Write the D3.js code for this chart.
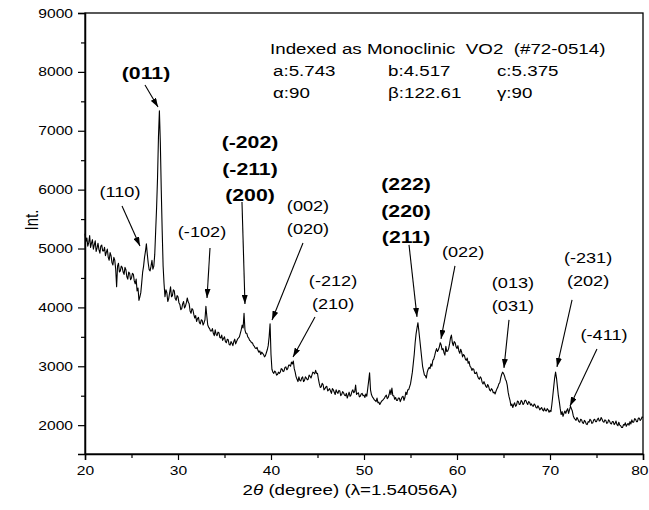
<!DOCTYPE html>
<html><head><meta charset="utf-8">
<script src="https://cdn.jsdelivr.net/npm/d3@7"></script>
<style>
html,body{margin:0;padding:0;background:#fff;}
svg{display:block;font-family:"Liberation Sans",Arial,Helvetica,sans-serif;}
</style>
</head><body>
<svg id="chart" width="649" height="510"></svg>
<script>
// ---------------- DATA ----------------
const thetaStart = 20, thetaStep = 0.1;   // 2θ sampling of the trace (degrees)
const intensity = [
 5250,5120,5180,5040,5100,5220,5020,5090,5150,4990, // 20
 5060,5130,4950,5010,5090,4980,4920,5040,5060,4960, // 21
 4960,5020,4880,4940,4990,4850,4800,4930,4880,4760, // 22
 4720,4850,4800,4650,4350,4700,4750,4600,4620,4700, // 23
 4680,4600,4560,4680,4640,4520,4480,4600,4580,4470, // 24
 4500,4580,4560,4450,4400,4480,4280,4330,4120,4180, // 25
 4250,4420,4600,4700,4850,4950,5080,4900,4750,4640, // 26
 4620,4700,4800,4650,4700,4900,5300,5700,6200,6900, // 27
 7340,6800,6000,5300,4700,4400,4180,4300,4250,4100, // 28
 4150,4250,4350,4180,4200,4300,4280,4150,4120,4200, // 29
 4180,4080,4050,3960,3980,4060,4100,3990,4020,4080, // 30
 4160,4090,4060,3940,3900,3980,3960,3880,3820,3860, // 31
 3760,3810,3830,3740,3720,3790,3780,3700,3740,3790, // 32
 4020,3850,3700,3660,3640,3600,3600,3640,3560,3520, // 33
 3620,3540,3520,3580,3570,3490,3480,3530,3440,3470, // 34
 3500,3420,3400,3460,3450,3370,3360,3420,3390,3350, // 35
 3420,3460,3380,3420,3460,3480,3500,3560,3620,3700, // 36
 3650,3900,3620,3560,3560,3500,3480,3440,3430,3400, // 37
 3400,3360,3340,3310,3300,3320,3270,3240,3260,3200, // 38
 3240,3220,3200,3160,3180,3230,3280,3350,3500,3720, // 39
 3200,2950,2900,2880,2920,2900,2850,2860,2900,2880, // 40
 2900,2960,2950,2910,2920,2980,2990,2940,2960,3020, // 41
 3020,3000,3070,3040,3090,2960,2900,2820,2780,2740, // 42
 2820,2760,2750,2800,2820,2740,2760,2820,2800,2770, // 43
 2780,2850,2830,2800,2850,2900,2890,2870,2930,2880, // 44
 2880,2780,2700,2640,2650,2710,2690,2600,2620,2650, // 45
 2660,2580,2600,2620,2580,2540,2620,2600,2560,2520, // 46
 2600,2560,2540,2590,2580,2500,2520,2570,2550,2510, // 47
 2500,2540,2460,2510,2560,2490,2510,2570,2600,2550, // 48
 2570,2680,2520,2540,2550,2480,2490,2530,2540,2500, // 49
 2510,2470,2530,2490,2620,2750,2890,2600,2520,2480, // 50
 2460,2430,2420,2400,2460,2380,2390,2350,2380,2410, // 51
 2420,2440,2460,2490,2510,2450,2470,2520,2600,2520, // 52
 2630,2500,2500,2440,2470,2420,2420,2460,2460,2400, // 53
 2440,2480,2490,2420,2470,2560,2520,2600,2600,2650, // 54
 2700,2800,2900,3050,3200,3400,3550,3650,3740,3600, // 55
 3450,3300,3150,3000,2920,2850,2840,2800,2900,2950, // 56
 2980,2960,3040,3000,3100,3120,3180,3250,3300,3250, // 57
 3280,3330,3400,3360,3280,3300,3230,3190,3340,3250, // 58
 3260,3300,3380,3480,3530,3400,3350,3420,3400,3330, // 59
 3300,3350,3260,3220,3290,3240,3160,3200,3180,3120, // 60
 3100,3140,3050,3080,3000,2980,2930,2960,2950,2880, // 61
 2880,2900,2840,2800,2780,2820,2800,2730,2700,2740, // 62
 2700,2660,2640,2690,2660,2600,2580,2620,2600,2550, // 63
 2560,2530,2580,2620,2650,2700,2720,2800,2860,2900, // 64
 2880,2840,2780,2750,2680,2560,2480,2420,2330,2360, // 65
 2300,2350,2380,2320,2340,2410,2400,2350,2360,2420, // 66
 2400,2350,2370,2420,2420,2380,2350,2400,2390,2340, // 67
 2360,2330,2320,2360,2340,2300,2290,2330,2300,2260, // 68
 2280,2300,2260,2240,2290,2250,2240,2280,2260,2220, // 69
 2250,2230,2350,2500,2650,2800,2900,2800,2650,2500, // 70
 2400,2280,2180,2230,2150,2200,2240,2200,2250,2280, // 71
 2200,2260,2320,2280,2240,2160,2120,2100,2080,2130, // 72
 2100,2060,2050,2100,2090,2040,2030,2080,2060,2020, // 73
 2010,2060,2050,2100,2080,2030,2040,2090,2100,2060, // 74
 2060,2100,2120,2070,2080,2130,2100,2060,2050,2090, // 75
 2080,2030,2040,2090,2070,2030,2020,2060,2060,2010, // 76
 2030,2070,2010,1990,2050,2000,1990,1960,1960,2010, // 77
 2000,2040,1980,2010,2030,2000,2060,2020,2090,2050, // 78
 2050,2110,2100,2060,2060,2120,2120,2080,2100,2140, // 79
 2130                                                // 80
];
const xTickValues = [20,25,30,35,40,45,50,55,60,65,70,75,80];
const xTickLabels = [20,30,40,50,60,70,80];
const yTickValues = [2000,2500,3000,3500,4000,4500,5000,5500,6000,6500,7000,7500,8000,8500,9000];
const yTickLabels = [2000,3000,4000,5000,6000,7000,8000,9000];

// peak annotations: label lines, bold?, label anchor [2θ, Int], arrow from/to [2θ, Int]
const peakText   = [["(011)"],["(110)"],["(-102)"],["(-202)","(-211)","(200)"],["(002)","(020)"],["(-212)","(210)"],
                    ["(222)","(220)","(211)"],["(022)"],["(013)","(031)"],["(-231)","(202)"],["(-411)"]];
const peakBold   = [true,false,false,true,false,false,true,false,false,false,false];
const peakAnchor = [[26.56,7990],[23.76,5960],[32.58,5282],[37.74,6810],[43.98,5723],[46.67,4450],
                    [54.52,6097],[60.65,4942],[66.02,4416],[74.09,4840],[75.81,3533]];
const arrowFrom  = [[26.45,7778],[23.98,5723],[33.44,5010],[36.88,5791],[43.44,5095],[44.73,3838],
                    [54.84,5061],[59.78,4704],[65.59,3788],[72.37,4127],[75.05,3295]];
const arrowTo    = [[27.85,7404],[25.91,5044],[33.12,4161],[37.20,4059],[40.11,3787],[42.37,3159],
                    [55.70,3839],[58.28,3465],[65.05,2972],[70.75,2989],[72.15,2327]];

const cellHeader = "Indexed as Monoclinic  VO2  (#72-0514)";
const cellParams = [["a:5.743","b:4.517","c:5.375"],["\u03B1:90","\u03B2:122.61","\u03B3:90"]];
const xTitleParts = ["2", "\u03B8", " (degree) (\u03BB=1.54056A)"];
const yTitle = "Int.";

// ---------------- LAYOUT ----------------
const L = {left:85, right:643, top:13, bottom:454, sx:1.25};
const svg = d3.select("#chart");
const x = d3.scaleLinear().domain([20,80]).range([L.left, L.right]);
const y = d3.scaleLinear().domain([1510,9000]).range([L.bottom, L.top]);

function stext(g, px, py, str, size, opt={}) {
  return g.append("text")
    .attr("transform", `translate(${px},${py}) scale(${L.sx},1)`)
    .attr("text-anchor", opt.anchor || "start")
    .attr("font-size", size)
    .attr("font-weight", opt.bold ? "bold" : "normal")
    .attr("dy", opt.dy || null)
    .style("white-space","pre")
    .attr("fill","#000")
    .text(str);
}

// frame (top & right)
svg.append("rect").attr("x",L.left).attr("y",L.top)
  .attr("width",L.right-L.left).attr("height",L.bottom-L.top)
  .attr("fill","none").attr("stroke","#000").attr("stroke-width",1.3);

// trace
const pts = intensity.map((v,i)=>[thetaStart + i*thetaStep, v]);
svg.append("path").datum(pts)
  .attr("fill","none").attr("stroke","#000").attr("stroke-width",1.1)
  .attr("stroke-linejoin","round")
  .attr("d", d3.line().x(d=>x(d[0])).y(d=>y(d[1])));

// x axis
const gx = svg.append("g").attr("transform",`translate(0,${L.bottom})`)
  .call(d3.axisBottom(x).tickValues(xTickValues).tickSize(6).tickPadding(6)
        .tickFormat(d=> xTickLabels.includes(d) ? d : ""));
gx.select(".domain").attr("stroke-width",1.5);
gx.selectAll(".tick line").attr("stroke-width",1.2).attr("y2", d=> xTickLabels.includes(d) ? 6 : 4);
gx.selectAll(".tick text").attr("font-size",12.5).attr("font-family",null)
  .attr("transform",`scale(${L.sx},1)`)
  .filter(d=> d===80).attr("text-anchor","end").attr("x", 5/L.sx);

// y axis
const gy = svg.append("g").attr("transform",`translate(${L.left},0)`)
  .call(d3.axisLeft(y).tickValues(yTickValues).tickSize(7).tickPadding(5)
        .tickFormat(d=> yTickLabels.includes(d) ? d : ""));
gy.select(".domain").attr("stroke-width",1.5);
gy.selectAll(".tick line").attr("stroke-width",1.2).attr("x2", d=> yTickLabels.includes(d) ? -7 : -4);
gy.selectAll(".tick text").attr("font-size",12.5).attr("font-family",null)
  .attr("x", -12/L.sx).attr("transform",`scale(${L.sx},1)`);

// axis titles
const xt = svg.append("text")
  .attr("transform",`translate(${(L.left+L.right)/2-14},${495}) scale(${L.sx},1)`)
  .attr("text-anchor","middle").attr("font-size",15).style("white-space","pre");
xt.append("tspan").text(xTitleParts[0]);
xt.append("tspan").attr("font-style","italic").text(xTitleParts[1]);
xt.append("tspan").text(xTitleParts[2]);

svg.append("text")
  .attr("transform",`translate(38,220) scale(${L.sx},1) rotate(-90)`)
  .attr("text-anchor","middle").attr("font-size",15).text(yTitle);

// header block (cell parameters)
const hdr = svg.append("g");
stext(hdr, 270, 54, cellHeader, 15);
const colX = [273, 388, 497], rowY = [76, 98];
cellParams.forEach((row,ri)=>row.forEach((s,ci)=>stext(hdr, colX[ci], rowY[ri], s, 15)));

// arrow marker
svg.append("defs").append("marker").attr("id","ah")
  .attr("viewBox","0 0 10 10").attr("refX",10).attr("refY",5)
  .attr("markerUnits","userSpaceOnUse").attr("markerWidth",9).attr("markerHeight",6)
  .attr("preserveAspectRatio","none").attr("orient","auto")
  .append("path").attr("d","M0,0 L10,5 L0,10 z").attr("fill","#000");

// peak annotations
const ann = svg.append("g");
peakText.forEach((lines,i)=>{
  const bold = peakBold[i];
  const lh = bold ? 26.5 : 23;
  const size = bold ? 17 : 14.5;
  lines.forEach((s,k)=>{
    stext(ann, x(peakAnchor[i][0]), y(peakAnchor[i][1]) + k*lh, s, size, {anchor:"middle", bold, dy:"0.36em"});
  });
  ann.append("line")
    .attr("x1",x(arrowFrom[i][0])).attr("y1",y(arrowFrom[i][1]))
    .attr("x2",x(arrowTo[i][0])).attr("y2",y(arrowTo[i][1]))
    .attr("stroke","#000").attr("stroke-width",1.1).attr("marker-end","url(#ah)");
});
</script>
</body></html>
